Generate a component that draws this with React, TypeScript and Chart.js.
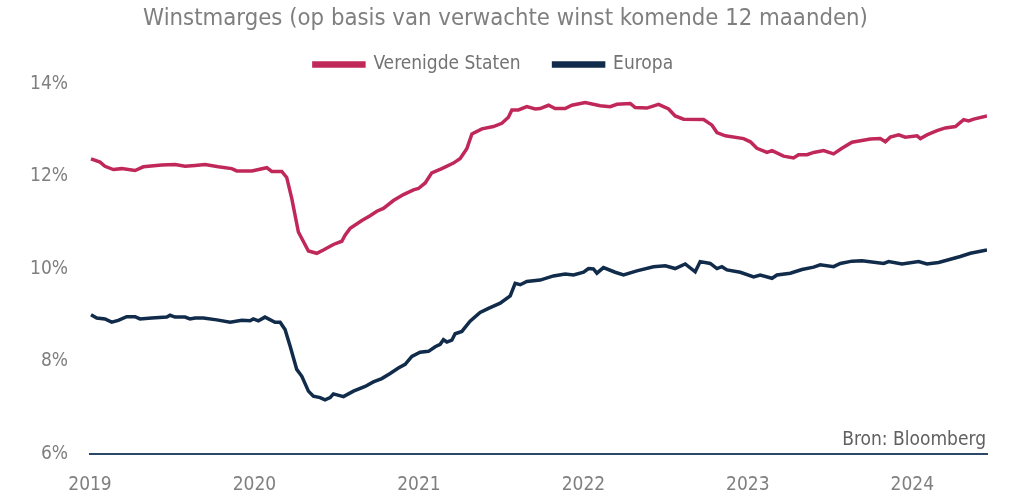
import React, { useEffect, useRef } from "react";
import { Chart, registerables } from "chart.js";

Chart.register(...registerables);

const TITLE = "Winstmarges (op basis van verwachte winst komende 12 maanden)";
const SOURCE = "Bron: Bloomberg";
const SERIES_NAMES = ["Verenigde Staten", "Europa"];
const YEAR_TICKS = [2019, 2020, 2021, 2022, 2023, 2024];

// decimal year positions
const usDates = [
  2019.006, 2019.061, 2019.091, 2019.142, 2019.193, 2019.274, 2019.324, 2019.436, 2019.517, 2019.578,
  2019.639, 2019.7, 2019.78, 2019.862, 2019.892, 2019.984, 2020.075, 2020.105, 2020.166, 2020.196,
  2020.227, 2020.267, 2020.328, 2020.379, 2020.419, 2020.48, 2020.531, 2020.551, 2020.582, 2020.653,
  2020.703, 2020.744, 2020.784, 2020.845, 2020.906, 2020.967, 2020.997, 2021.038, 2021.078, 2021.139,
  2021.21, 2021.251, 2021.291, 2021.322, 2021.383, 2021.453, 2021.504, 2021.544, 2021.565, 2021.605,
  2021.656, 2021.707, 2021.737, 2021.788, 2021.828, 2021.889, 2021.93, 2022.011, 2022.102, 2022.163,
  2022.204, 2022.285, 2022.315, 2022.386, 2022.457, 2022.518, 2022.558, 2022.609, 2022.731, 2022.782,
  2022.812, 2022.863, 2022.974, 2023.015, 2023.055, 2023.116, 2023.147, 2023.217, 2023.278, 2023.308,
  2023.36, 2023.4, 2023.461, 2023.521, 2023.572, 2023.633, 2023.745, 2023.805, 2023.836, 2023.866,
  2023.917, 2023.957, 2024.029, 2024.049, 2024.089, 2024.15, 2024.201, 2024.262, 2024.312, 2024.342,
  2024.373, 2024.454,
];
const usValues = [
  12.38, 12.31, 12.22, 12.15, 12.17, 12.13, 12.21, 12.25, 12.26, 12.22,
  12.24, 12.26, 12.21, 12.17, 12.12, 12.12, 12.19, 12.11, 12.11, 11.98,
  11.52, 10.8, 10.39, 10.34, 10.41, 10.53, 10.6, 10.73, 10.88, 11.05,
  11.15, 11.25, 11.31, 11.48, 11.61, 11.71, 11.74, 11.86, 12.08, 12.17,
  12.29, 12.39, 12.6, 12.92, 13.03, 13.08, 13.15, 13.28, 13.44, 13.44,
  13.51, 13.46, 13.47, 13.54, 13.47, 13.47, 13.54, 13.6, 13.53, 13.51,
  13.56, 13.58, 13.49, 13.48, 13.56, 13.46, 13.31, 13.24, 13.23, 13.11,
  12.95, 12.88, 12.82, 12.75, 12.61, 12.52, 12.56, 12.44, 12.4, 12.47,
  12.47, 12.52, 12.56, 12.49, 12.61, 12.74, 12.81, 12.82, 12.75, 12.85,
  12.9, 12.85, 12.88, 12.82, 12.9, 12.99, 13.05, 13.08, 13.23, 13.2,
  13.24, 13.31,
];

const euDates = [
  2019.006, 2019.041, 2019.091, 2019.132, 2019.172, 2019.223, 2019.274, 2019.304, 2019.375, 2019.467,
  2019.487, 2019.517, 2019.578, 2019.608, 2019.639, 2019.689, 2019.771, 2019.852, 2019.923, 2019.973,
  2019.993, 2020.024, 2020.064, 2020.125, 2020.156, 2020.186, 2020.217, 2020.257, 2020.288, 2020.328,
  2020.358, 2020.399, 2020.429, 2020.46, 2020.48, 2020.541, 2020.602, 2020.673, 2020.723, 2020.774,
  2020.825, 2020.875, 2020.916, 2020.957, 2021.007, 2021.058, 2021.099, 2021.129, 2021.149, 2021.17,
  2021.2, 2021.22, 2021.261, 2021.311, 2021.372, 2021.423, 2021.494, 2021.555, 2021.585, 2021.616,
  2021.656, 2021.737, 2021.818, 2021.889, 2021.94, 2022.001, 2022.031, 2022.061, 2022.082, 2022.122,
  2022.193, 2022.244, 2022.325, 2022.426, 2022.498, 2022.558, 2022.619, 2022.68, 2022.71, 2022.771,
  2022.812, 2022.842, 2022.873, 2022.954, 2023.035, 2023.075, 2023.147, 2023.177, 2023.258, 2023.329,
  2023.4, 2023.44, 2023.521, 2023.562, 2023.633, 2023.694, 2023.826, 2023.856, 2023.937, 2024.038,
  2024.089, 2024.16, 2024.292, 2024.353, 2024.454,
];
const euValues = [
  9.01, 8.94, 8.92, 8.85, 8.89, 8.97, 8.97, 8.92, 8.94, 8.96,
  9.0, 8.96, 8.96, 8.92, 8.94, 8.94, 8.9, 8.85, 8.89, 8.88,
  8.92, 8.88, 8.96, 8.85, 8.85, 8.69, 8.33, 7.83, 7.68, 7.36,
  7.25, 7.22, 7.17, 7.22, 7.3, 7.24, 7.36, 7.46, 7.56, 7.63,
  7.74, 7.86, 7.94, 8.11, 8.2, 8.22, 8.32, 8.37, 8.47, 8.42,
  8.46, 8.6, 8.65, 8.87, 9.06, 9.15, 9.26, 9.42, 9.69, 9.66,
  9.73, 9.76, 9.85, 9.89, 9.87, 9.93, 10.01, 10.0, 9.91, 10.03,
  9.93, 9.87, 9.96, 10.05, 10.07, 10.01, 10.11, 9.94, 10.16, 10.12,
  10.01, 10.05, 9.98, 9.93, 9.83, 9.87, 9.8, 9.87, 9.91, 9.99,
  10.04, 10.09, 10.05, 10.12, 10.17, 10.18, 10.12, 10.16, 10.11, 10.16,
  10.11, 10.14, 10.27, 10.34, 10.41,
];

const FONT = "'Liberation Sans Narrow', 'DejaVu Sans Condensed', 'Open Sans', sans-serif";
const US_COLOR = "#C0285A";
const EU_COLOR = "#112B4B";
const AXIS_COLOR = "#2C4868";
const GRAY = "#7F7F7F";

const textPlugin = {
  id: "extraText",
  afterDraw(chart: any) {
    const { ctx, chartArea, width } = chart;
    ctx.save();
    // title, centered on the full canvas
    ctx.font = `23.7px ${FONT}`;
    ctx.fillStyle = GRAY;
    ctx.textAlign = "center";
    ctx.textBaseline = "middle";
    ctx.fillText(TITLE, width / 2, 19);
    // source note
    ctx.font = `19px ${FONT}`;
    ctx.fillStyle = "#606060";
    ctx.textAlign = "right";
    ctx.textBaseline = "bottom";
    ctx.fillText(SOURCE, chartArea.right - 1, chartArea.bottom - 4);
    ctx.restore();
  },
};

export default function App() {
  const ref = useRef<HTMLCanvasElement | null>(null);

  useEffect(() => {
    if (!ref.current) return;
    const toPts = (d: number[], v: number[]) => d.map((x, i) => ({ x, y: v[i] }));
    const chart = new Chart(ref.current, {
      type: "line",
      data: {
        datasets: [
          {
            label: SERIES_NAMES[0],
            data: toPts(usDates, usValues),
            borderColor: US_COLOR,
            backgroundColor: US_COLOR,
            borderWidth: 3.5,
            pointRadius: 0,
            tension: 0,
          },
          {
            label: SERIES_NAMES[1],
            data: toPts(euDates, euValues),
            borderColor: EU_COLOR,
            backgroundColor: EU_COLOR,
            borderWidth: 3.5,
            pointRadius: 0,
            tension: 0,
          },
        ],
      },
      options: {
        animation: false,
        responsive: false,
        maintainAspectRatio: false,
        layout: { padding: { left: 0, right: 24, top: 22, bottom: 0 } },
        plugins: {
          title: { display: false },
          legend: {
            display: true,
            labels: {
              color: "#737373",
              font: { family: FONT, size: 19 },
              boxWidth: 50,
              boxHeight: 3,
              padding: 33,
            },
          },
          tooltip: { enabled: false },
        },
        scales: {
          x: {
            type: "linear",
            min: 2019,
            max: usDates[usDates.length - 1],
            afterBuildTicks: (scale: any) => {
              scale.ticks = YEAR_TICKS.map((v) => ({ value: v }));
            },
            afterFit: (scale: any) => {
              scale.height = 42;
            },
            ticks: {
              color: GRAY,
              font: { family: FONT, size: 19 },
              padding: 20,
              maxRotation: 0,
              autoSkip: false,
              callback: (v: any) => String(v),
            },
            grid: { display: false, drawTicks: false },
            border: { display: true, color: AXIS_COLOR, width: 2 },
          },
          y: {
            min: 6,
            max: 14,
            afterFit: (scale: any) => {
              scale.width = 90;
            },
            ticks: {
              stepSize: 2,
              color: GRAY,
              font: { family: FONT, size: 19 },
              padding: 22,
              callback: (v: any) => `${v}%`,
            },
            grid: { display: false, drawTicks: false },
            border: { display: false },
          },
        },
      },
      plugins: [textPlugin],
    } as any);
    return () => chart.destroy();
  }, []);

  return (
    <div style={{ position: "fixed", left: 0, top: 0, width: 1011, height: 496, background: "#fff" }}>
      <canvas ref={ref} width={1011} height={496} style={{ display: "block" }} />
    </div>
  );
}
